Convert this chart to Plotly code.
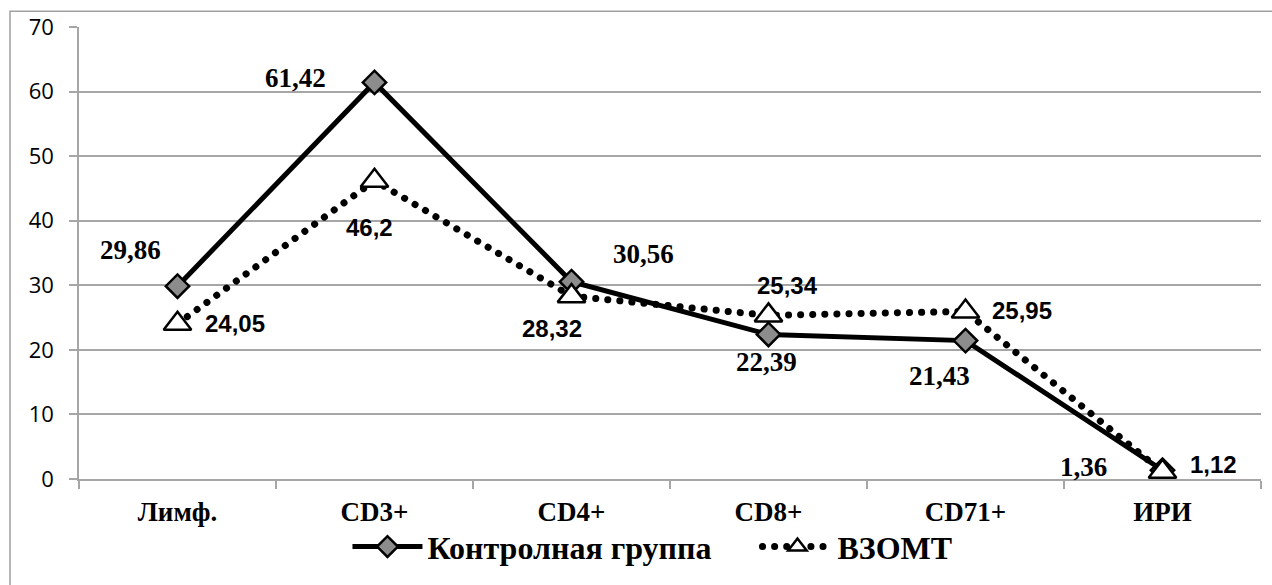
import plotly.graph_objects as go

categories = ["Лимф.", "CD3+", "CD4+", "CD8+", "CD71+", "ИРИ"]
control_vals = [29.86, 61.42, 30.56, 22.39, 21.43, 1.36]
vzomt_vals = [24.05, 46.2, 28.32, 25.34, 25.95, 1.12]
series_names = ["Контролная группа", "ВЗОМТ"]
y_ticks = [0, 10, 20, 30, 40, 50, 60, 70]

# label offsets in pixels (xshift, yshift) for each data label
control_offsets = [(-47, 36), (-79, 4), (72, 28), (-2, -28), (-26, -35), (-79, 3)]
vzomt_offsets = [(57, 0), (-5, -47), (-20, -32), (19, 30), (56, 1), (51, 7)]

SERIF = "Liberation Serif, Times New Roman, serif"
NARROW = "Liberation Sans Narrow, Arial Narrow, Liberation Sans, sans-serif"
GRID = "#a6a6a6"

def fmt(v):
    return ("%g" % v).replace(".", ",")

fig = go.Figure()
fig.add_trace(go.Scatter(
    x=categories, y=control_vals, name="<b>" + series_names[0] + "</b>", mode="lines+markers",
    line=dict(color="black", width=5),
    marker=dict(symbol="diamond", size=18, color="#8c8c8c", line=dict(color="black", width=2.5)),
))
fig.add_trace(go.Scatter(
    x=categories, y=vzomt_vals, name="<b>" + series_names[1] + "</b>", mode="lines+markers",
    line=dict(color="black", width=7, dash="0.1px,12px"),
    marker=dict(symbol="triangle-up", size=24, color="white", line=dict(color="black", width=2.5)),
))

annotations = []
for c, v, (dx, dy) in zip(categories, control_vals, control_offsets):
    annotations.append(dict(x=c, y=v, text="<b>" + fmt(v) + "</b>", showarrow=False, xshift=dx, yshift=dy,
                            font=dict(family=SERIF, size=27, color="black")))
for c, v, (dx, dy) in zip(categories, vzomt_vals, vzomt_offsets):
    annotations.append(dict(x=c, y=v, text="<b>" + fmt(v) + "</b>", showarrow=False, xshift=dx, yshift=dy,
                            font=dict(family=NARROW, size=24, color="black")))

fig.update_layout(
    width=1272, height=585,
    margin=dict(l=79, r=11, t=27, b=99),
    paper_bgcolor="white", plot_bgcolor="white",
    showlegend=True,
    legend=dict(orientation="h", x=0.574, xanchor="center", y=-0.150, yanchor="middle",
                font=dict(family=SERIF, size=32, color="black"),
                itemwidth=70, entrywidth=325, bgcolor="rgba(0,0,0,0)"),
    xaxis=dict(type="category", range=[-0.5, 5.5], showgrid=False, showline=True,
               linecolor=GRID, linewidth=1.5, ticks="outside", tickson="boundaries",
               ticklen=8, tickcolor=GRID, tickwidth=1.5, automargin=False,
               tickfont=dict(family=SERIF, size=27, color="black", weight="bold"),
               ticklabelstandoff=8),
    yaxis=dict(range=[0, 70], tickvals=y_ticks, showgrid=True, gridcolor=GRID, gridwidth=1.5,
               showline=True, linecolor=GRID, linewidth=1.5, ticks="outside", ticklen=8,
               tickcolor=GRID, tickwidth=1.5, zeroline=False, automargin=False,
               tickfont=dict(family="Open Sans, Noto Sans, sans-serif", size=22, color="black"),
               ticklabelstandoff=11),
    annotations=annotations,
    shapes=[dict(type="rect", xref="paper", yref="paper",
                 x0=(10 - 79) / 1182, x1=(1280 - 79) / 1182,
                 y0=(486 - 600) / 459, y1=(486 - 11) / 459,
                 line=dict(color="#a0a0a0", width=1.5), fillcolor="rgba(0,0,0,0)", layer="below")],
)

round_dots = """
var gd = document.querySelector('.plotly-graph-div');
function roundDots(){
  document.querySelectorAll('path.js-line').forEach(function(p){
    if ((p.style.strokeDasharray || '').indexOf('0.1') >= 0) { p.style.strokeLinecap = 'round'; }
  });
}
roundDots();
if (gd && gd.on) { gd.on('plotly_afterplot', roundDots); }
"""

fig.write_html("out.html", post_script=round_dots)
